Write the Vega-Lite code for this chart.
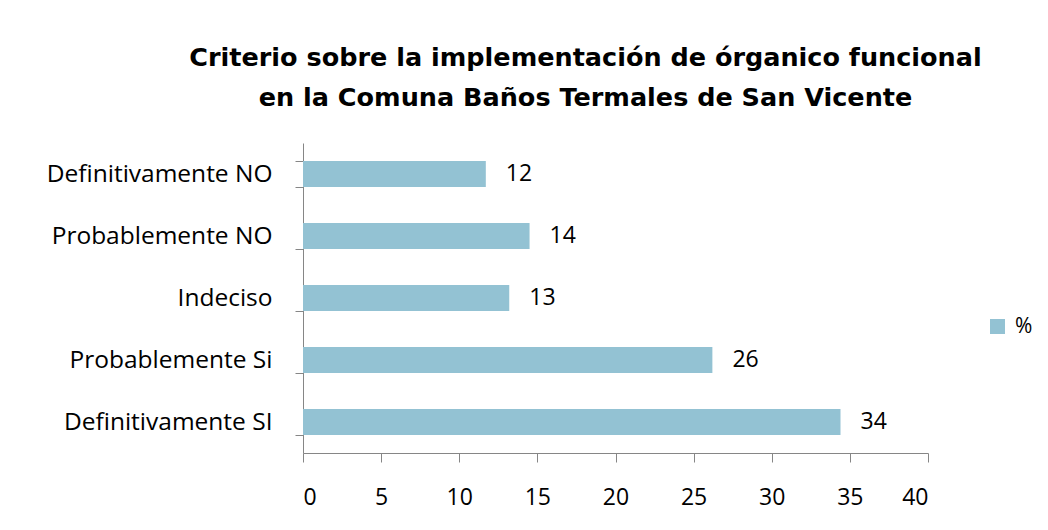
{
  "$schema": "https://vega.github.io/schema/vega-lite/v6.json",
  "width": 625,
  "height": 310,
  "autosize": {"type": "none"},
  "padding": {"left": 303, "top": 143, "right": 120, "bottom": 77},
  "background": "white",
  "title": {
    "text": ["Criterio sobre la implementación de órganico funcional", "en la Comuna  Baños Termales de San Vicente"],
    "anchor": "middle",
    "dx": -30,
    "offset": 19,
    "font": "DejaVu Sans",
    "fontSize": 25.5,
    "fontWeight": "bold",
    "color": "black",
    "lineHeight": 40
  },
  "data": {
    "values": [
      {"categoria": "Definitivamente NO", "valor": 11.7, "etiqueta": "12", "serie": "%"},
      {"categoria": "Probablemente NO", "valor": 14.5, "etiqueta": "14", "serie": "%"},
      {"categoria": "Indeciso", "valor": 13.2, "etiqueta": "13", "serie": "%"},
      {"categoria": "Probablemente Si", "valor": 26.2, "etiqueta": "26", "serie": "%"},
      {"categoria": "Definitivamente SI", "valor": 34.4, "etiqueta": "34", "serie": "%"}
    ]
  },
  "encoding": {
    "y": {
      "field": "categoria",
      "type": "nominal",
      "sort": null,
      "scale": {"paddingInner": 0.58, "paddingOuter": 0.29},
      "axis": {
        "title": null,
        "domainColor": "#868686",
        "tickColor": "#868686",
        "tickSize": 8,
        "tickBand": "extent",
        "labelPadding": 23,
        "labelLimit": 0,
        "labelFont": "Open Sans",
        "labelFontSize": 24.5,
        "labelColor": "black"
      }
    },
    "x": {
      "field": "valor",
      "type": "quantitative",
      "scale": {"domain": [0, 40], "nice": false},
      "axis": {
        "title": null,
        "values": [0, 5, 10, 15, 20, 25, 30, 35, 40],
        "grid": false,
        "domainColor": "#868686",
        "tickColor": "#868686",
        "tickSize": 9,
        "labelPadding": 24,
        "labelFont": "Open Sans",
        "labelFontSize": 23,
        "labelColor": "black"
      }
    }
  },
  "layer": [
    {
      "mark": {"type": "bar"},
      "encoding": {
        "color": {
          "field": "serie",
          "type": "nominal",
          "scale": {"range": ["#93C2D3"]},
          "legend": {
            "title": null,
            "orient": "none",
            "legendX": 684,
            "legendY": 173,
            "symbolType": "square",
            "symbolSize": 225,
            "symbolStrokeWidth": 0,
            "labelFont": "Open Sans",
            "labelFontSize": 21,
            "labelColor": "black",
            "labelOffset": 7
          }
        }
      }
    },
    {
      "mark": {"type": "text", "align": "left", "dx": 20, "font": "Open Sans", "fontSize": 23, "color": "black"},
      "encoding": {"text": {"field": "etiqueta"}}
    }
  ],
  "config": {
    "view": {"stroke": null}
  }
}
